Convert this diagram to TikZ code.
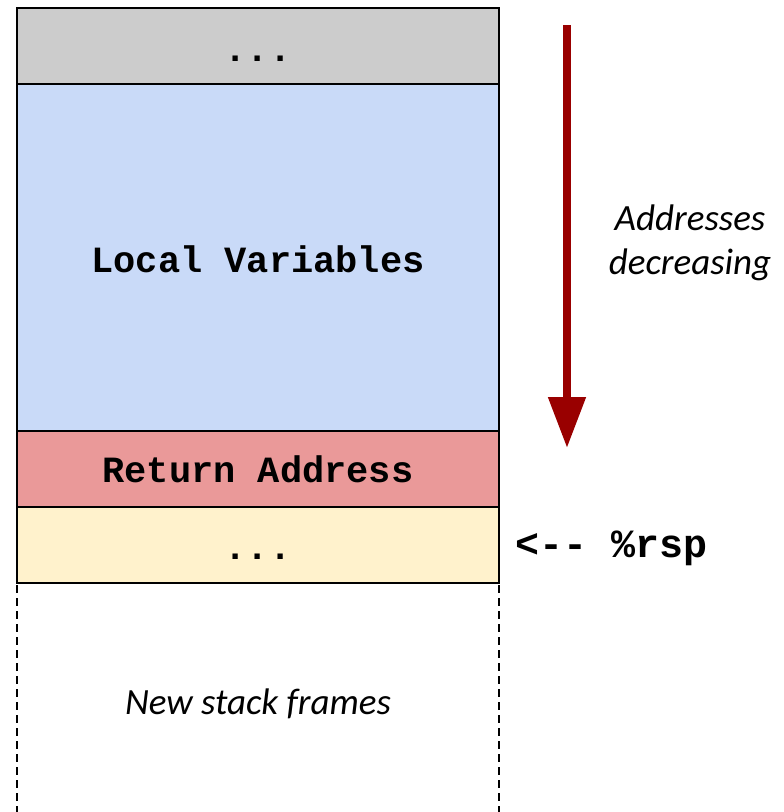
\documentclass[tikz,border=0pt]{standalone}
\usepackage{fontspec}
\setmainfont{Carlito}
\newfontfamily\codefont{Liberation Mono}
\usetikzlibrary{arrows.meta}
\definecolor{cellgray}{HTML}{CCCCCC}
\definecolor{cellblue}{HTML}{C9DAF8}
\definecolor{cellred}{HTML}{EA9999}
\definecolor{cellyellow}{HTML}{FFF2CC}
\definecolor{arrowred}{HTML}{990000}
\tikzset{
  cell/.style={draw=black, line width=2pt},
  codetext/.style={anchor=base, inner sep=0pt, font=\codefont\bfseries\fontsize{37}{44}\selectfont},
  itext/.style={anchor=base, inner sep=0pt, font=\itshape\fontsize{37}{44}\selectfont},
  frameline/.style={draw=black, line width=1.6pt, dash pattern=on 8pt off 5pt},
}
\begin{document}
\begin{tikzpicture}[x=1pt,y=-1pt]
\useasboundingbox (0,0) rectangle (784,812);
% cells
\filldraw[cell, fill=cellgray] (17,8) rectangle (499,84);
\filldraw[cell, fill=cellblue] (17,84) rectangle (499,431);
\filldraw[cell, fill=cellred] (17,431) rectangle (499,507);
\filldraw[cell, fill=cellyellow] (17,507) rectangle (499,583);
% dashed continuation
\draw[frameline] (17,585) -- (17,812);
\draw[frameline] (499,585) -- (499,812);
% texts
\node[codetext] (dotstop) at (258,61) {...};
\node[codetext] (locals) at (258,272) {Local Variables};
\node[codetext] (retaddr) at (258,482) {Return Address};
\node[codetext] (dotsbot) at (258,559) {...};
\node[codetext, font=\codefont\bfseries\fontsize{40}{44}\selectfont] (rsp) at (612,557) {<-- \%rsp};
\node[itext] (newframes) at (258,714) {New stack frames};
\node[itext] (addr1) at (690,230) {Addresses};
\node[itext] (addr2) at (690,274) {decreasing};
% arrow
\coordinate (atop) at (567,25);
\coordinate (abot) at (567,448);
\draw[arrowred, line width=8pt, -{Triangle[length=51pt,width=36pt]}] (atop) -- (abot);
\end{tikzpicture}
\end{document}
